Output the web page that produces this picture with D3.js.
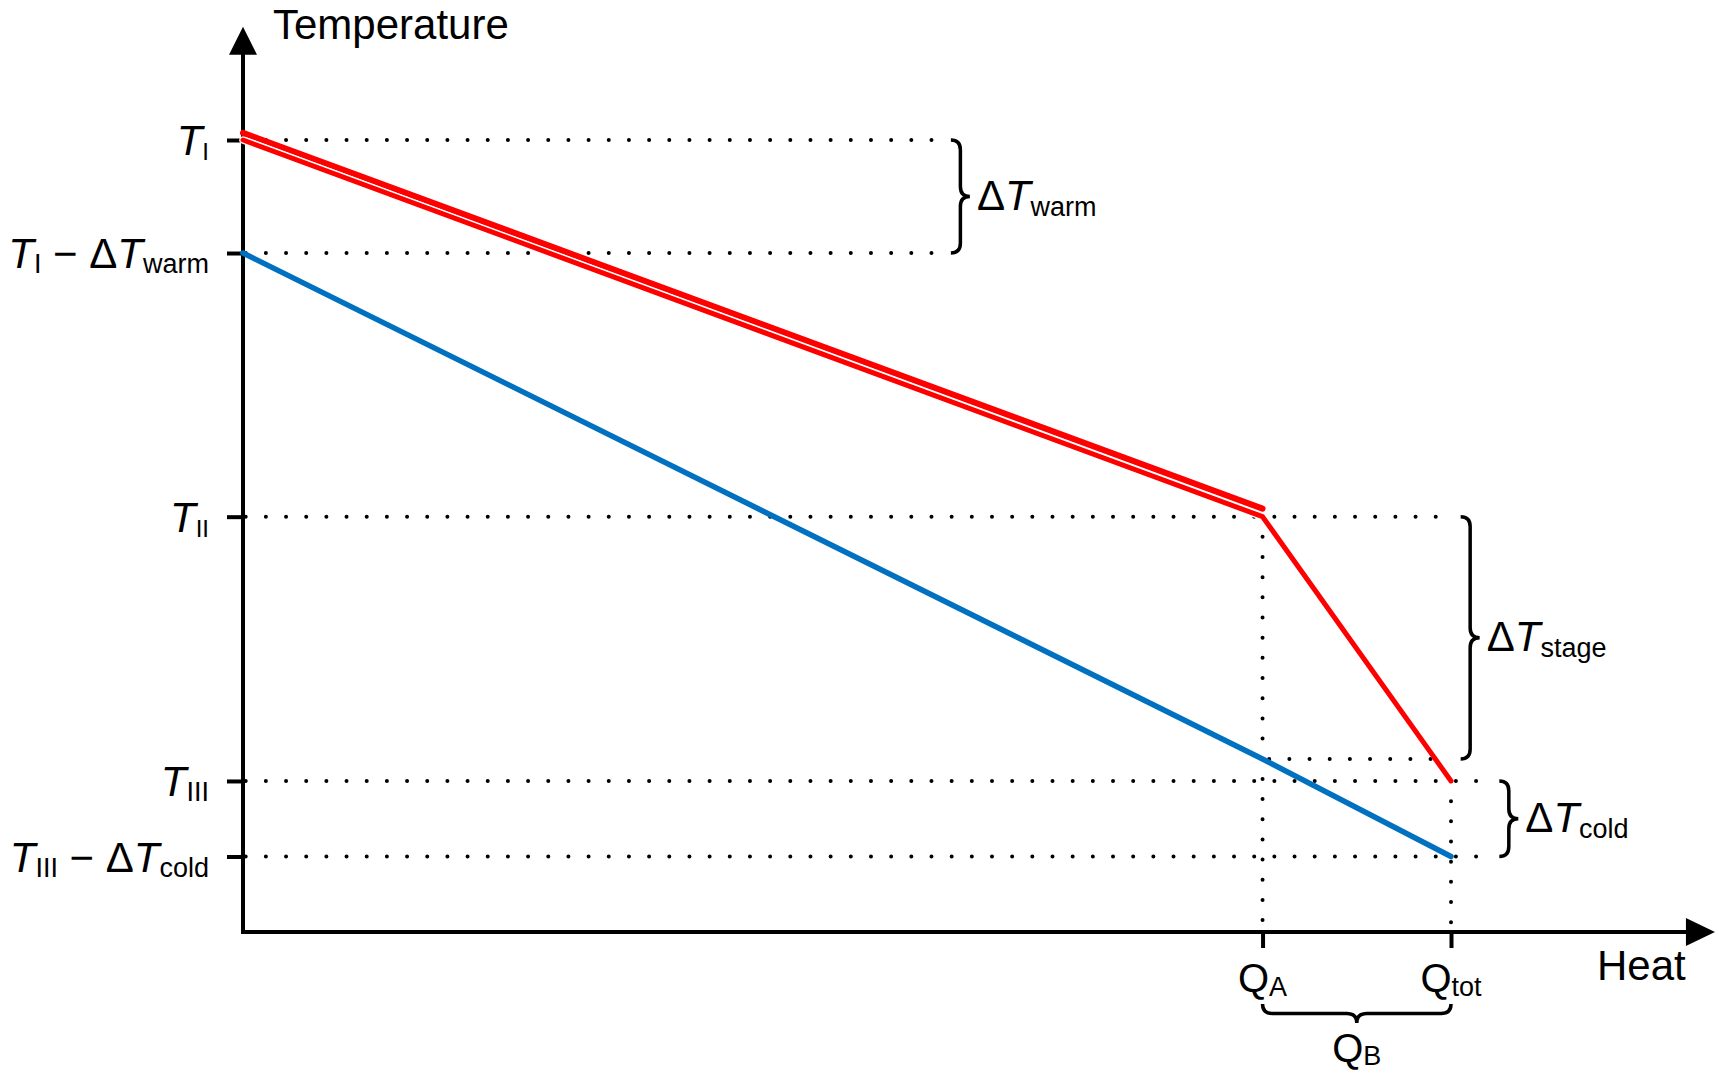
<!DOCTYPE html>
<html>
<head>
<meta charset="utf-8">
<script src="https://cdn.jsdelivr.net/npm/d3@7"></script>
<style>
  html, body { margin: 0; padding: 0; background: #fff; }
  svg { display: block; font-family: "Liberation Sans", Arimo, Arial, Helvetica, sans-serif; }
  text { white-space: pre; fill: #000; }
</style>
</head>
<body>
<svg id="chart" width="1719" height="1073"></svg>
<script>
// ── Data (heat: Q_tot = 100, temperature: T_I = 100) ───────────────────────
const qValues = [84.4, 100];                       // Q_A, Q_tot
const qLabels = [[['Q', ''], ['A', 's']], [['Q', ''], ['tot', 's']]];

const tempLevels = [100, 85.73, 52.44, 19.07, 9.53];
const tempLabels = [
    [['T', 'i'], ['I', 's']],
    [['T', 'i'], ['I', 's'], [' \u2212 \u0394', ''], ['T', 'i'], ['warm', 's']],
    [['T', 'i'], ['II', 's']],
    [['T', 'i'], ['III', 's']],
    [['T', 'i'], ['III', 's'], [' \u2212 \u0394', ''], ['T', 'i'], ['cold', 's']]
];

const hotStream = [[0, 100], [84.4, 52.44], [100, 19.07]];
const hotUpper = [[0, 100.9], [84.4, 53.45]];
const coldStream = [[0, 85.73], [84.4, 21.84], [100, 9.53]];

// temperature brackets: [heat position, top T, bottom T, label]
const tempBraces = [
    [58.6, 100, 85.73, 'warm'],
    [100.8, 52.44, 21.84, 'stage'],
    [104.0, 19.07, 9.53, 'cold']
];

// dotted guides: [heat0, T0, heat1, T1]
const guides = [
    [0, 100, 57.0, 100],
    [0, 85.73, 57.0, 85.73],
    [0, 52.44, 99.7, 52.44],
    [84.95, 21.84, 99.8, 21.84],
    [0, 19.07, 103.1, 19.07],
    [0, 9.53, 103.1, 9.53],
    [84.4, 52.44, 84.4, 0],
    [100, 19.07, 100, 0]
];

const HEAT_END = 121.85;
const TEMP_END = 114.3;

const RED = '#ff0000';
const BLUE = '#0070c0';

// ── Scales ──────────────────────────────────────────────────────────────────
const x = d3.scaleLinear().domain([0, 100]).range([243, 1451]);
const y = d3.scaleLinear().domain([0, 100]).range([932, 140]);

const svg = d3.select('#chart');
svg.append('rect').attr('width', 1719).attr('height', 1073).attr('fill', '#fff');

function richText(parent, px, py, parts, opt) {
    const t = parent.append('text')
        .attr('x', px).attr('y', py)
        .attr('text-anchor', opt.anchor || 'start')
        .attr('font-size', opt.size);
    let down = false;
    parts.forEach(([str, kind]) => {
        const s = t.append('tspan').text(str);
        if (kind === 's') {
            s.attr('font-size', opt.sub);
            if (!down) s.attr('dy', opt.drop);
            down = true;
        } else {
            if (down) s.attr('dy', -opt.drop);
            down = false;
            if (kind === 'i') s.attr('font-style', 'italic');
        }
    });
    return t;
}

function braceV(x0, y1, y2, w = 19, r = 10) {
    const s = x0 + w / 2, tip = x0 + w, m = (y1 + y2) / 2;
    return `M${x0},${y1} Q${s},${y1} ${s},${y1 + r} L${s},${m - r} Q${s},${m} ${tip},${m}` +
        ` Q${s},${m} ${s},${m + r} L${s},${y2 - r} Q${s},${y2} ${x0},${y2}`;
}

function braceH(x1, x2, y0, h = 19, r = 10) {
    const s = y0 + h / 2, tip = y0 + h, m = (x1 + x2) / 2;
    return `M${x1},${y0} Q${x1},${s} ${x1 + r},${s} L${m - r},${s} Q${m},${s} ${m},${tip}` +
        ` Q${m},${s} ${m + r},${s} L${x2 - r},${s} Q${x2},${s} ${x2},${y0}`;
}

// ── Dotted guides ───────────────────────────────────────────────────────────
svg.append('g').selectAll('line')
    .data(guides)
    .join('line')
    .attr('x1', d => x(d[0]) + (d[0] === 0 ? 2.7 : 0))
    .attr('y1', d => y(d[1]))
    .attr('x2', d => x(d[2]))
    .attr('y2', d => y(d[3]))
    .attr('stroke', '#000')
    .attr('stroke-width', 4)
    .attr('stroke-linecap', 'round')
    .attr('stroke-dasharray', '0 20.17');

// ── Axes ────────────────────────────────────────────────────────────────────
const axisG = svg.append('g');
axisG.append('line')
    .attr('x1', x(0)).attr('y1', y(0) + 2)
    .attr('x2', x(0)).attr('y2', y(TEMP_END) + 26)
    .attr('stroke', '#000').attr('stroke-width', 4);
axisG.append('path')
    .attr('d', `M${x(0)},${y(TEMP_END)} L${x(0) + 14},${y(TEMP_END) + 28} L${x(0) - 14},${y(TEMP_END) + 28}Z`)
    .attr('fill', '#000');
axisG.append('line')
    .attr('x1', x(0) - 2).attr('y1', y(0))
    .attr('x2', x(HEAT_END) - 27).attr('y2', y(0))
    .attr('stroke', '#000').attr('stroke-width', 4);
axisG.append('path')
    .attr('d', `M${x(HEAT_END)},${y(0)} L${x(HEAT_END) - 29},${y(0) - 14} L${x(HEAT_END) - 29},${y(0) + 14}Z`)
    .attr('fill', '#000');

axisG.append('g')
    .attr('transform', `translate(${x(0)},0)`)
    .call(d3.axisLeft(y).tickValues(tempLevels).tickSize(16).tickFormat(''))
    .call(g => {
        g.select('.domain').remove();
        g.selectAll('.tick line').attr('stroke', '#000').attr('stroke-width', 4);
    });

axisG.append('g')
    .attr('transform', `translate(0,${y(0)})`)
    .call(d3.axisBottom(x).tickValues(qValues).tickSize(16).tickFormat(''))
    .call(g => {
        g.select('.domain').remove();
        g.selectAll('.tick line').attr('stroke', '#000').attr('stroke-width', 4);
    });

// axis titles
svg.append('text').attr('x', 273).attr('y', 39).attr('font-size', 42).text('Temperature');
svg.append('text').attr('x', 1597).attr('y', 980).attr('font-size', 42).text('Heat');

// tick labels
tempLevels.forEach((v, i) => {
    richText(svg, 209, y(v) + 15, tempLabels[i], { anchor: 'end', size: 42, sub: i % 2 === 0 && i !== 4 ? 24 : 27, drop: 5 });
});
qValues.forEach((v, i) => {
    richText(svg, x(v), 992, qLabels[i], { anchor: 'middle', size: 40, sub: 27, drop: 4 });
});

// ── Streams ─────────────────────────────────────────────────────────────────
const line = d3.line().x(d => x(d[0])).y(d => y(d[1]));

svg.append('path')
    .datum(hotUpper)
    .attr('fill', 'none')
    .attr('stroke', RED)
    .attr('stroke-width', 6)
    .attr('stroke-linecap', 'round')
    .attr('d', line);

svg.append('path')
    .datum(hotStream.slice(0, 2))
    .attr('fill', 'none')
    .attr('stroke', '#fff')
    .attr('stroke-width', 7.5)
    .attr('stroke-linecap', 'round')
    .attr('d', line);

svg.append('path')
    .datum(hotStream)
    .attr('fill', 'none')
    .attr('stroke', RED)
    .attr('stroke-width', 5)
    .attr('stroke-linecap', 'round')
    .attr('stroke-linejoin', 'round')
    .attr('d', line);

svg.append('path')
    .datum(coldStream)
    .attr('fill', 'none')
    .attr('stroke', BLUE)
    .attr('stroke-width', 5.5)
    .attr('stroke-linecap', 'round')
    .attr('stroke-linejoin', 'round')
    .attr('d', line);

// ── Braces ──────────────────────────────────────────────────────────────────
const braceG = svg.append('g').attr('fill', 'none').attr('stroke', '#000').attr('stroke-width', 3.5);
tempBraces.forEach(([h, t1, t2, name]) => {
    braceG.append('path').attr('d', braceV(x(h), y(t1), y(t2)));
    const mid = (y(t1) + y(t2)) / 2;
    richText(svg, x(h) + 26, mid + 13, [['\u0394', ''], ['T', 'i'], [name, 's']], { size: 42, sub: 27, drop: 6 });
});

braceG.append('path').attr('d', braceH(x(qValues[0]), x(qValues[1]), 1004));
richText(svg, (x(qValues[0]) + x(qValues[1])) / 2, 1062, [['Q', ''], ['B', 's']], { anchor: 'middle', size: 40, sub: 27, drop: 3 });
</script>
</body>
</html>
